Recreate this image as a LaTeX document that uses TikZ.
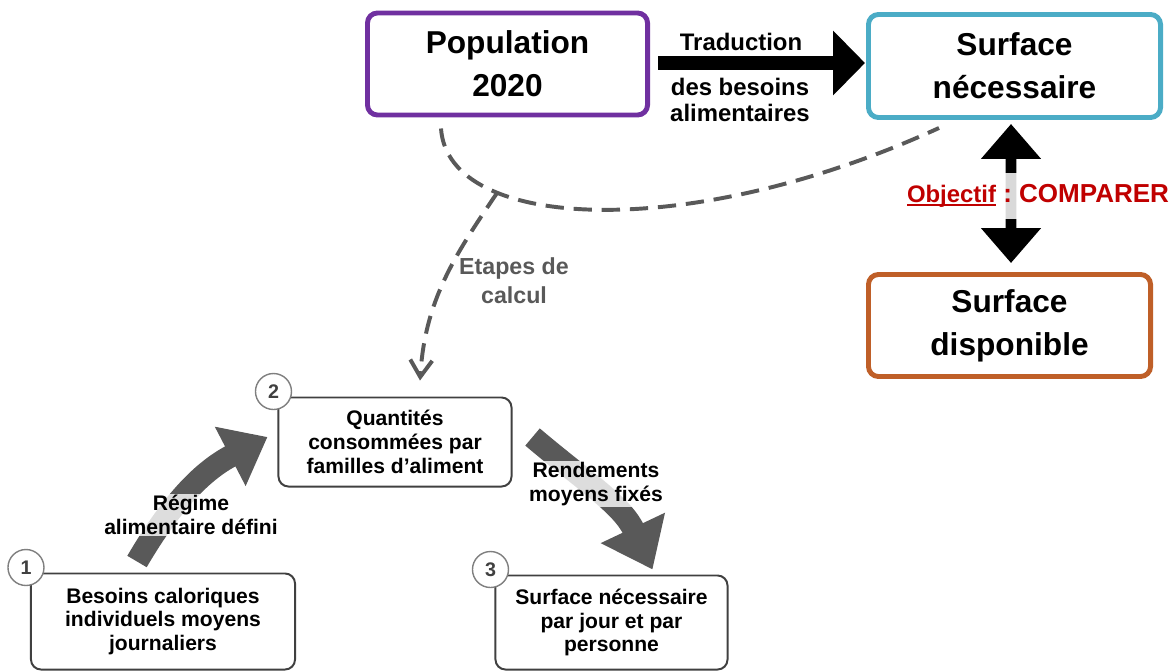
\documentclass[tikz,border=0pt]{standalone}
\usepackage{fontspec}
\setmainfont{Liberation Sans}
\usepackage{tikz}
\usetikzlibrary {arrows.meta,calc}
\usetikzlibrary {positioning}
\newcommand\ulword[1]{\setbox0\hbox{#1}\rlap{\rule[-2.6pt]{\wd0}{1.3pt}}\box0}

\begin{document}
\begin{tikzpicture}[x=0.025cm,y=-0.025cm,
  bigbox/.style={draw,line width=3.5pt,rounded corners=0.25cm,align=center,font=\fontsize{22.5}{30.5}\selectfont\bfseries},
  stepbox/.style={draw=boxline,line width=1.4pt,rounded corners=0.25cm,align=center,font=\fontsize{15}{17}\selectfont\bfseries},
  numcirc/.style={circle,draw=numline,line width=1pt,fill=white,minimum size=0.9cm,inner sep=0pt,text=boxline,font=\fontsize{14}{14}\selectfont\bfseries},
  dashline/.style={draw=dashgray,line width=2.8pt,dash pattern=on 13pt off 7pt},
  fatarrow/.style={draw=dashgray,line width=16pt},
  veil/.style={preaction={fill=white,fill opacity=0.8},inner sep=1pt,align=center,font=\fontsize{15}{17}\selectfont\bfseries}]
\definecolor{popviolet}{HTML}{7030A0} \definecolor{surfblue}{HTML}{4BACC6}
\definecolor{dispoorange}{HTML}{BF5F28} \definecolor{objred}{HTML}{C00000}
\definecolor{dashgray}{HTML}{595959} \definecolor{boxline}{HTML}{404040}
\definecolor{numline}{HTML}{7F7F7F}
\useasboundingbox (0,0) rectangle (1176,671);
\node [bigbox,draw=popviolet,minimum width=7cm,minimum height=2.55cm] (pop) at (507.5,64) {Population\\2020};
\node [bigbox,draw=surfblue,minimum width=7.3cm,minimum height=2.575cm] (nec) at (1014.5,66) {Surface\\nécessaire};
\node [bigbox,draw=dispoorange,minimum width=7.05cm,minimum height=2.55cm] (dispo) at (1009.5,325.5) {Surface\\disponible};
\draw [line width=9.9pt,-{Triangle[length=0.8cm,width=1.575cm]}] ($ (pop.east)+(8,-1) $) -- ($ (pop.east -| nec.west)+(-1,-1) $);
\node [font=\fontsize{17}{18}\selectfont\bfseries] (trad) at (741,42) {Traduction};
\node [font=\fontsize{17}{18}\selectfont\bfseries,align=center] (besal) at (740,100) {des besoins\\alimentaires};
\draw [line width=7.8pt,{Triangle[length=0.875cm,width=1.45cm]}-{Triangle[length=0.875cm,width=1.45cm]}] ($ (nec.south)+(-3.5,4) $) -- ($ (dispo.north)+(1.5,-9) $);
\node [preaction={fill=white,fill opacity=0.85},text=objred,font=\bfseries,inner sep=0pt,minimum height=1.15cm] (objectif) at (1038,196)
  {\fontsize{17}{17}\selectfont\ulword{Objectif}\fontsize{18.5}{18.5}\selectfont\ :\ COMPARER};
% etapes de calcul
\draw [dashline] ($ (pop.south)+(-66.5,11) $) .. controls (448,232) and (690,242) .. ($ (nec.south west)+(73,8) $) coordinate [pos=0.28] (branch);
\node [stepbox,minimum width=6.6cm,minimum height=2.4cm] (besoins) at (163,621.5) {Besoins caloriques\\individuels moyens\\journaliers};
\node [stepbox,minimum width=5.825cm,minimum height=2.225cm] (quantites) at (395,442) {Quantités\\consommées par\\familles d’aliment};
\node [stepbox,minimum width=5.8cm,minimum height=2.35cm] (surfjour) at (611.5,622.5) {Surface nécessaire\\par jour et par\\personne};
\draw [dashline,-{Straight Barb[length=0.42cm,width=0.55cm]}] (branch) .. controls (455,255) and (425,300) .. ($ (quantites.north)+(25,-16) $);
\node [font=\fontsize{16.5}{20.5}\selectfont\bfseries,text=dashgray,align=center] (etapes) at (514,281) {Etapes de\\calcul};
\foreach \b/\n in {besoins/1,quantites/2,surfjour/3}
  \node [numcirc] (num\n) at ($ (\b.north west)+(-4,-5) $) {\n};
\draw [fatarrow,-{Triangle[length=1.05cm,width=1.6cm]}] ($ (besoins.north)+(-26,-11) $) .. controls (173,500) and (204,470) .. ($ (quantites.west)+(-10,-5) $);
\draw [fatarrow,-{Triangle[length=1.15cm,width=1.7cm]}] ($ (quantites.east)+(20,-5) $) .. controls (587,483) and (622,505) .. ($ (surfjour.north)+(41,-5) $);
\node [veil] (regime) at (191,515) {Régime\\alimentaire défini};
\node [veil] (rendements) at (596,484) {Rendements\\moyens fixés};
\end{tikzpicture}
\end{document}
